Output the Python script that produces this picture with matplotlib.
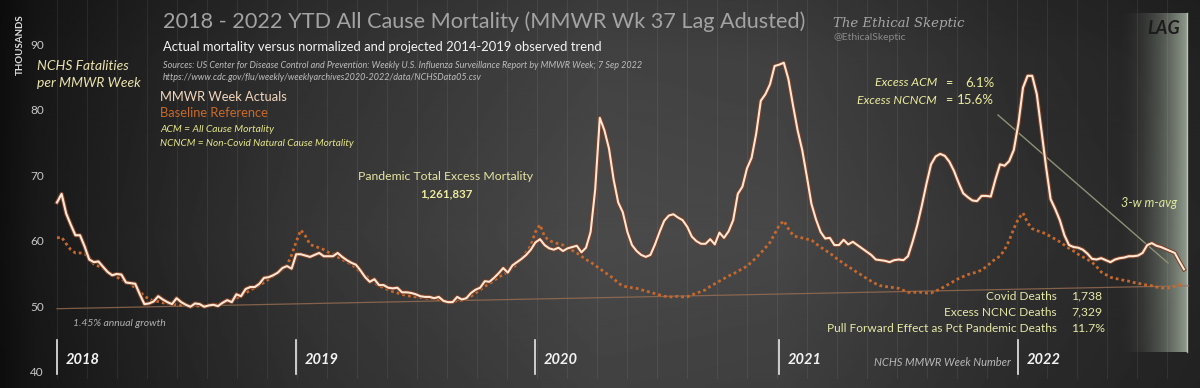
import numpy as np
import matplotlib
matplotlib.use('Agg')
import matplotlib.pyplot as plt
import matplotlib.patheffects as pe

# ── Data (thousands of deaths per MMWR week, 2018 wk1 .. 2022 wk37) ─────────
acm = [
    66.0, 67.3, 64.3, 62.6, 61.0, 61.0, 59.3, 57.3, 56.9, 57.0,
    56.2, 55.4, 54.9, 55.1, 55.0, 53.8, 53.7, 53.6, 52.0, 50.5,
    50.6, 50.9, 51.7, 51.2, 50.8, 50.5, 51.4, 50.8, 50.4, 50.1,
    50.6, 50.5, 50.1, 50.3, 50.4, 50.2, 50.7, 51.1, 50.8, 52.0,
    51.7, 52.8, 53.1, 53.1, 53.6, 54.5, 54.6, 54.9, 55.3, 56.0,
    56.3, 55.9, 58.1, 58.1, 57.9, 57.7, 58.0, 58.3, 57.8, 57.8,
    57.8, 58.3, 57.7, 57.2, 56.8, 56.5, 55.6, 54.6, 53.9, 54.3,
    53.4, 53.4, 53.0, 52.9, 53.0, 52.3, 52.3, 52.2, 52.0, 51.7,
    51.6, 51.6, 51.4, 51.6, 51.0, 50.8, 50.8, 51.6, 51.2, 51.4,
    52.2, 52.7, 53.0, 54.0, 53.9, 54.5, 55.2, 56.0, 55.3, 56.4,
    56.9, 57.4, 58.0, 58.8, 59.9, 60.4, 59.5, 59.0, 58.8, 59.1,
    58.6, 59.0, 59.2, 59.4, 58.4, 59.1, 61.5, 68.0, 78.9, 77.0,
    74.2, 69.5, 66.0, 64.5, 61.5, 59.5, 58.6, 58.0, 57.7, 58.0,
    59.6, 61.5, 63.2, 64.0, 64.2, 63.7, 63.3, 62.3, 60.8, 60.1,
    59.7, 59.7, 60.4, 59.6, 61.4, 60.6, 61.6, 63.3, 67.3, 68.4,
    71.2, 72.8, 76.5, 81.5, 82.5, 84.0, 86.8, 87.0, 87.3, 84.8,
    80.8, 77.0, 74.0, 70.0, 65.8, 63.4, 61.5, 60.5, 60.6, 59.5,
    59.5, 60.3, 59.6, 60.0, 59.5, 59.0, 58.5, 58.0, 57.3, 57.2,
    57.1, 56.9, 57.2, 57.3, 57.2, 57.8, 60.0, 62.5, 65.5, 68.8,
    71.8, 73.0, 73.4, 73.1, 72.2, 70.8, 69.0, 67.4, 66.8, 66.3,
    66.2, 67.0, 67.0, 66.9, 69.5, 71.8, 71.6, 72.3, 74.0, 78.0,
    83.5, 85.3, 85.3, 82.5, 77.0, 71.5, 66.5, 65.0, 63.3, 61.0,
    59.5, 59.2, 59.1, 58.8, 58.2, 57.4, 57.3, 57.5, 57.2, 56.9,
    57.3, 57.5, 57.6, 57.8, 57.8, 57.9, 58.3, 59.5, 59.8, 59.4,
    59.2, 58.9, 58.6, 58.3, 57.0, 55.8,
]

baseline = [
    60.6, 60.7, 59.7, 58.8, 58.3, 58.3, 58.2, 57.6, 56.6, 56.3,
    56.0, 55.4, 55.0, 54.6, 54.3, 53.9, 53.5, 53.0, 52.4, 51.7,
    51.3, 51.0, 50.9, 50.7, 50.6, 50.5, 50.4, 50.3, 50.3, 50.2,
    50.2, 50.2, 50.2, 50.3, 50.4, 50.5, 50.7, 50.9, 51.1, 51.4,
    51.8, 52.2, 52.6, 53.0, 53.4, 53.8, 54.3, 54.8, 55.3, 55.8,
    56.4, 58.0, 60.0, 61.8, 60.9, 59.6, 59.3, 59.1, 58.8, 58.4,
    58.1, 57.7, 57.3, 56.9, 56.6, 56.0, 55.4, 54.9, 54.3, 53.8,
    53.3, 53.0, 52.7, 52.4, 52.2, 52.0, 51.8, 51.7, 51.6, 51.5,
    51.4, 51.4, 51.3, 51.2, 51.0, 50.9, 50.9, 51.0, 51.1, 51.3,
    51.7, 52.2, 52.7, 53.2, 53.6, 54.1, 54.6, 55.0, 55.4, 56.0,
    56.6, 57.5, 58.4, 59.4, 61.5, 62.6, 60.8, 60.2, 59.9, 59.7,
    59.5, 59.1, 58.7, 58.3, 57.8, 57.3, 56.9, 56.4, 55.9, 55.4,
    54.9, 54.4, 53.7, 53.3, 53.1, 53.0, 52.9, 52.7, 52.5, 52.3,
    52.1, 51.9, 51.7, 51.6, 51.6, 51.7, 51.6, 51.6, 51.9, 52.2,
    52.4, 52.7, 53.2, 53.6, 54.0, 54.4, 54.8, 55.1, 55.5, 55.9,
    56.3, 56.9, 57.6, 58.3, 59.1, 59.9, 61.2, 62.5, 63.2, 62.0,
    61.0, 60.7, 60.6, 60.4, 60.3, 59.7, 59.2, 58.7, 58.3, 57.7,
    57.2, 56.7, 56.2, 55.8, 55.3, 54.9, 54.4, 54.0, 53.6, 53.3,
    53.2, 53.1, 53.0, 52.9, 52.6, 52.3, 52.3, 52.3, 52.3, 52.2,
    52.2, 52.5, 52.8, 53.2, 53.6, 54.0, 54.4, 54.7, 55.0, 55.2,
    55.4, 55.7, 56.2, 56.8, 57.4, 57.8, 58.8, 60.2, 62.0, 63.5,
    64.4, 62.9, 62.0, 61.7, 61.5, 61.2, 60.8, 60.4, 60.0, 59.5,
    59.0, 58.6, 58.1, 57.7, 57.3, 56.9, 56.2, 55.4, 55.0, 54.6,
    54.4, 54.3, 54.1, 54.0, 53.8, 53.7, 53.5, 53.4, 53.3, 53.1,
    53.0, 52.9, 53.0, 53.2, 53.4, 53.7,
]

trend_x = [0, 246]           # week index of trend end points
trend_y = [49.8, 53.3]       # 1.45% annual growth line

years = ['2018', '2019', '2020', '2021', '2022']
year_start = [0, 52, 104, 157, 209]   # week index of week 1 each year
yticks = [40, 50, 60, 70, 80, 90]

# ── Figure / pixel mapping ─────────────────────────────────────────────────
W, H = 1200, 388
X0, DX = 57.0, 4.6          # pixel of week 0, pixels per week
Y40, DY = 373.0, 6.56       # pixel of 40k, pixels per 1k

def xd(px):
    return (px - X0) / DX

def yd(py):
    return 40 + (Y40 - py) / DY

fig = plt.figure(figsize=(W / 100, H / 100), dpi=100)
ax = fig.add_axes([0, 0, 1, 1])
ax.set_xlim(xd(0), xd(W))
ax.set_ylim(yd(H), yd(0))
ax.axis('off')

FONT = 'Lato'

# ── Background gradient ───────────────────────────────────────────────────
gx = np.linspace(0, 1, 600)
gy = np.linspace(0, 1, 200)
hprof = np.interp(gx, [0, 0.03, 0.25, 0.5, 0.65, 0.85, 1.0],
                  [0.06, 0.10, 0.21, 0.29, 0.28, 0.19, 0.15])
vprof = np.interp(gy, [0, 0.15, 0.6, 1.0], [0.80, 0.90, 1.0, 0.88])
bg = np.outer(vprof, hprof)
ax.imshow(bg, cmap='gray', vmin=0, vmax=1, aspect='auto', zorder=0,
          extent=[xd(0), xd(W), yd(H), yd(0)], origin='upper',
          interpolation='bilinear')

# ── LAG panel ─────────────────────────────────────────────────────────────
lx = np.linspace(0, 1, 200)
lag = np.zeros((2, 200, 4))
lag[..., 0] = 0.66
lag[..., 1] = 0.71
lag[..., 2] = 0.64
lag[..., 3] = (lx ** 2.0) * 0.85
ax.imshow(lag, aspect='auto', zorder=1,
          extent=[xd(1115), xd(1188), yd(352), yd(13)], origin='upper')
ax.plot([xd(1187), xd(1187)], [yd(352), yd(13)], color='#c8cfc4',
        lw=1.0, alpha=0.8, zorder=1)
fig.text(1164 / W, 1 - 28 / H, 'LAG', fontsize=13, fontweight='bold',
         style='italic', color='#1c1c1c', ha='center', va='center',
         family=FONT)

# ── Vertical grid lines ───────────────────────────────────────────────────
for k in range(38):
    gxp = X0 + 30 * k
    ax.plot([xd(gxp), xd(gxp)], [yd(378), yd(0)], color='white',
            lw=0.8, alpha=0.07, zorder=1)

# ── Series ────────────────────────────────────────────────────────────────
weeks = np.arange(len(acm))
ax.plot(trend_x, trend_y, color='#9a6f52', lw=0.9, alpha=0.8, zorder=2)
ax.plot(weeks, baseline, color='#c8682c', lw=2.0,
        linestyle=(0, (1, 1.1)), zorder=3)
ax.plot(weeks, acm, color='#fde6d3', lw=1.5, zorder=4,
        path_effects=[pe.Stroke(linewidth=3.0, foreground='#7a4128'),
                      pe.Normal()])

# 3-week moving average pointer
ax.plot([xd(998), xd(1168)], [yd(115), yd(263)], color='#8d9176',
        lw=1.0, zorder=2)

# ── Year markers ──────────────────────────────────────────────────────────
for yr, ws in zip(years, year_start):
    ax.plot([ws, ws], [yd(340), yd(374)], color='#e8e8e8', lw=1.2, zorder=3)
    ax.text(ws + 1.8, yd(360), yr, fontsize=10.5, fontweight='bold',
            style='italic', color='#f2f2f2', va='center', ha='left',
            family=FONT, zorder=5)

for v in yticks:
    ax.text(xd(37), v, str(v), fontsize=8.5, color='#c9c9c9',
            ha='center', va='center', family=FONT)

# ── Text ──────────────────────────────────────────────────────────────────
def put(x, y, s, size, color, ha='left', **kw):
    fig.text(x / W, 1 - y / H, s, fontsize=size, color=color, ha=ha,
             va='center', family=kw.pop('family', FONT), **kw)

put(20, 45, 'THOUSANDS', 7, '#dddddd', ha='center', rotation=90,
    fontweight='bold')
put(37, 66, 'NCHS Fatalities', 10, '#ebe3ac', style='italic')
put(37, 83, 'per MMWR Week', 10, '#ebe3ac', style='italic')

put(163, 22, '2018 - 2022 YTD All Cause Mortality (MMWR Wk 37 Lag Adusted)',
    15.6, '#a3a3a3')
put(163, 47, 'Actual mortality versus normalized and projected 2014-2019 '
    'observed trend', 9.4, '#f4f4f4')
put(163, 65, 'Sources: US Center for Disease Control and Prevention: Weekly '
    'U.S. Influenza Surveillance Report by MMWR Week; 7 Sep 2022',
    6.5, '#bdbdbd', style='italic')
put(163, 77, 'https://www.cdc.gov/flu/weekly/weeklyarchives2020-2022/data/'
    'NCHSData05.csv', 6.5, '#bdbdbd', style='italic')
put(160, 97, 'MMWR Week Actuals', 9.3, '#f2d6bd')
put(160, 113, 'Baseline Reference', 9.3, '#c8692a')
put(160, 129, 'ACM = All Cause Mortality', 7.4, '#e6e68c', style='italic')
put(160, 144, 'NCNCM = Non-Covid Natural Cause Mortality', 7.2, '#e6e68c',
    style='italic')

put(446, 177, 'Pandemic Total Excess Mortality', 8.8, '#e6e4a2', ha='center')
put(446, 194, '1,261,837', 8.3, '#eeec9e', ha='center', fontweight='bold')

put(833, 23, 'The Ethical Skeptic', 9.5, '#a6a6a6',
    style='italic', family='DejaVu Serif')
put(834, 38, '@EthicalSkeptic', 7.5, '#8a8a8a')

put(937, 83, 'Excess ACM', 8.8, '#ecec9e', ha='right', style='italic')
put(949, 83, '=', 9, '#ecec9e', ha='center')
put(994, 83, '6.1%', 9.5, '#ecec9e', ha='right')
put(937, 100, 'Excess NCNCM', 8.8, '#ecec9e', ha='right', style='italic')
put(949, 100, '=', 9, '#ecec9e', ha='center')
put(994, 100, '15.6%', 9.5, '#ecec9e', ha='right')

put(1149, 203, '3-w m-avg', 9, '#dbe79a', ha='center', style='italic')

put(1057, 296, 'Covid Deaths', 8.6, '#e6e8a6', ha='right')
put(1057, 312, 'Excess NCNC Deaths', 8.6, '#e6e8a6', ha='right')
put(1057, 328, 'Pull Forward Effect as Pct Pandemic Deaths', 8.6, '#e6e8a6',
    ha='right')
put(1071, 296, '1,738', 8.8, '#e6e8a6')
put(1071, 312, '7,329', 8.8, '#e6e8a6')
put(1071, 328, '11.7%', 8.8, '#e6e8a6')

put(73, 324, '1.45% annual growth', 7.5, '#b0b0b0', style='italic')
put(874, 363, 'NCHS MMWR Week Number', 8, '#b8b8b8', style='italic')

fig.savefig('out.png', dpi=100, facecolor='#222222')
